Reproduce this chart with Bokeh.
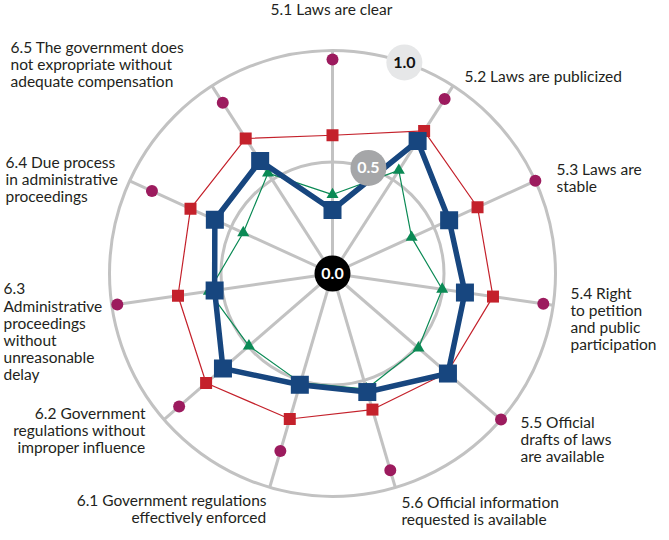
import math
from bokeh.plotting import figure
from bokeh.models import Range1d
from bokeh.core.properties import value
from bokeh.embed import file_html
from bokeh.resources import INLINE

# ---------------- data ----------------
categories = [
    "5.1 Laws are clear",
    "5.2 Laws are publicized",
    "5.3 Laws are stable",
    "5.4 Right to petition and public participation",
    "5.5 Official drafts of laws are available",
    "5.6 Official information requested is available",
    "6.1 Government regulations effectively enforced",
    "6.2 Government regulations without improper influence",
    "6.3 Administrative proceedings without unreasonable delay",
    "6.4 Due process in administrative proceedings",
    "6.5 The government does not expropriate without adequate compensation",
]
label_lines = [
    ["5.1 Laws are clear"],
    ["5.2 Laws are publicized"],
    ["5.3 Laws are", "stable"],
    ["5.4 Right", "to petition", "and public", "participation"],
    ["5.5 Official", "drafts of laws", "are available"],
    ["5.6 Official information", "requested is available"],
    ["6.1 Government regulations", "effectively enforced"],
    ["6.2 Government", "regulations without", "improper influence"],
    ["6.3", "Administrative", "proceedings", "without", "unreasonable", "delay"],
    ["6.4 Due process", "in administrative", "proceedings"],
    ["6.5 The government does", "not expropriate without", "adequate compensation"],
]
top_scores = [0.96, 0.93, 1.0, 0.955, 1.0, 0.92, 0.83, 0.91, 0.975, 0.89, 0.91]
region_scores = [0.62, 0.76, 0.715, 0.727, 0.68, 0.636, 0.68, 0.75, 0.70, 0.70, 0.72]
country_scores = [0.285, 0.706, 0.575, 0.60, 0.685, 0.554, 0.52, 0.65, 0.534, 0.58, 0.60]
low_scores = [0.354, 0.55, 0.39, 0.497, 0.51, 0.54, 0.51, 0.496, 0.56, 0.44, 0.535]
ring_values = [0.5, 1.0]
tick_values = [0.0, 0.5, 1.0]
tick_labels = ["0.0", "0.5", "1.0"]

# ---------------- layout ----------------
W, H = 669, 540
PX = 223.0            # pixels per unit radius
CX, CY = 332.0, 273.0  # centre in figure pixels
FONT = "Lato"

def to_data(px_x, px_y):
    return ((px_x - CX) / PX, (CY - px_y) / PX)

n = len(categories)
angles = [math.pi / 2 - 2 * math.pi * i / n for i in range(n)]

def polar(vals):
    xs = [v * math.cos(a) for v, a in zip(vals, angles)]
    ys = [v * math.sin(a) for v, a in zip(vals, angles)]
    return xs, ys

p = figure(width=W, height=H,
           x_range=Range1d(-CX / PX, (W - CX) / PX),
           y_range=Range1d(-(H - CY) / PX, CY / PX),
           output_backend="svg", toolbar_location=None,
           x_axis_location=None, y_axis_location=None, min_border=0)
p.grid.visible = False
p.outline_line_color = None
p.background_fill_color = "white"
p.border_fill_color = "white"

grey = "#c2c2c2"
# rings
p.circle(x=[0] * len(ring_values), y=[0] * len(ring_values), radius=ring_values,
         fill_color=None, line_color=grey, line_width=3)
# spokes
ex, ey = polar([1.0] * n)
p.segment(x0=[0] * n, y0=[0] * n, x1=ex, y1=ey, line_color=grey, line_width=3)

def closed(xs, ys):
    return xs + xs[:1], ys + ys[:1]

# red series
rx, ry = polar(region_scores)
cx_, cy_ = closed(rx, ry)
p.line(cx_, cy_, line_color="#c4212b", line_width=1.2)
p.scatter(rx, ry, marker="square", size=12, fill_color="#c4212b", line_color=None)

# green series
gx, gy = polar(low_scores)
cx_, cy_ = closed(gx, gy)
p.line(cx_, cy_, line_color="#0b8a55", line_width=1.2)
p.scatter(gx, gy, marker="triangle", size=12, fill_color="#0b8a55", line_color=None)

# purple
ux, uy = polar(top_scores)
p.scatter(ux, uy, marker="circle", size=12, fill_color="#9c1b5e", line_color=None)

# blue series
bx, by = polar(country_scores)
cx_, cy_ = closed(bx, by)
p.line(cx_, cy_, line_color="#17467f", line_width=5.5, line_join="miter")
p.scatter(bx, by, marker="square", size=18, fill_color="#17467f", line_color=None)

# tick value badges
tick_ang = math.radians(90 - 18.8)
txs = [v * math.cos(tick_ang) for v in tick_values]
tys = [v * math.sin(tick_ang) for v in tick_values]
badge_fill = ["#000000", "#a5a6a8", "#e6e7e8"]
badge_text = ["#ffffff", "#ffffff", "#111111"]
p.scatter(txs, tys, marker="circle", size=36, fill_color=badge_fill, line_color=None)
p.text(txs, tys, text=tick_labels, text_align="center", text_baseline="middle",
       text_font=value(FONT), text_font_style="bold", text_font_size="16px",
       text_color=badge_text)

# category labels: first-line anchor in pixels, alignment
label_layout = [
    (331, 8, "center"),
    (464, 75, "left"),
    (556, 168, "left"),
    (570, 292, "left"),
    (520, 421, "left"),
    (401, 501, "left"),
    (266, 499, "right"),
    (145, 412, "right"),
    (3, 288, "left"),
    (5, 161, "left"),
    (10, 46, "left"),
]
LINE_H = 17
groups = {}
for lines, (lx, ly, al) in zip(label_lines, label_layout):
    for j, t in enumerate(lines):
        dx, dy = to_data(lx, ly + j * LINE_H)
        g = groups.setdefault(al, ([], [], []))
        g[0].append(dx); g[1].append(dy); g[2].append(t)
for al, (xs, ys, ts) in groups.items():
    p.text(xs, ys, text=ts, text_align=al, text_baseline="middle",
           text_font=value(FONT), text_font_size="15.5px", text_color="#231f20")

open("out.html", "w").write(file_html(p, INLINE))
